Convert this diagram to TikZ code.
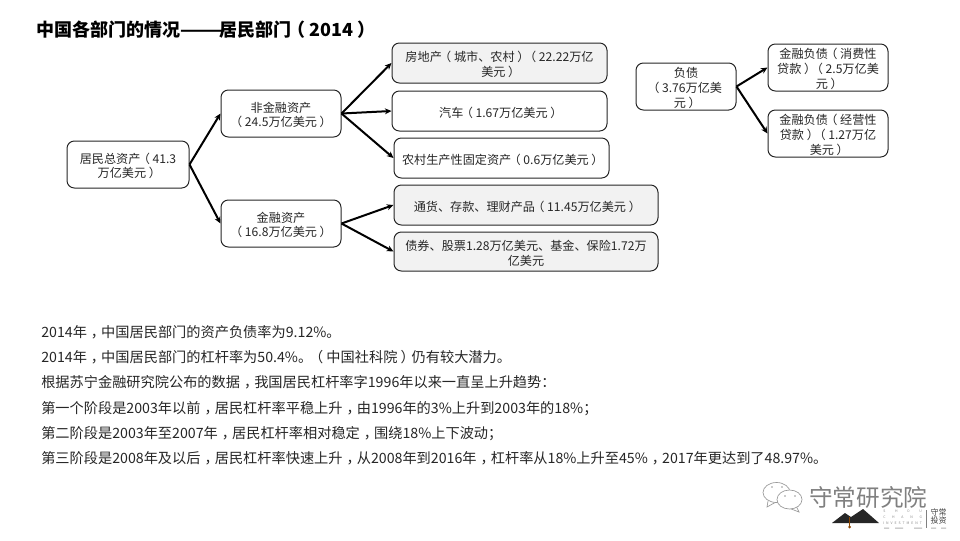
\documentclass[tikz,border=0pt]{standalone}
\usetikzlibrary{arrows.meta}
\usepackage{fontspec}
\setmainfont{Noto Sans CJK SC}
\newcommand{\lp}{\kern-.22em（\kern.22em}
\newcommand{\rp}{\kern.22em）\kern-.22em}
\newcommand{\cm}{\kern.28em，\kern-.28em}
\begin{document}
\begin{tikzpicture}[x=0.75pt,y=-0.75pt,
 box/.style={draw=black!85,line width=0.75pt,rounded corners=5.5pt,fill=white,inner sep=0pt},
 gbox/.style={box,fill=black!5},
 boxtext/.style={align=center,inner sep=0pt,font=\fontsize{9.1pt}{11pt}\selectfont,text=black!85},
 arr/.style={draw=black,line width=1.5pt,-{Stealth[length=5pt,width=4.5pt]}},
 body/.style={anchor=west,inner sep=0pt,font=\fontsize{10.65pt}{12pt}\selectfont,text=black!85},
 ttl/.style={anchor=west,inner sep=0pt,font=\fontsize{13.5pt}{16pt}\selectfont\bfseries,text=black},
 tiny/.style={anchor=west,inner sep=0pt,font=\fontsize{2.6pt}{3pt}\selectfont,text=black!45}]
\useasboundingbox (0,0) rectangle (960,540);
\fill[white] (0,0) rectangle (960,540);
\node[ttl] (title) at (36,30) {中国各部门的情况———\kern-.33em 居民部门\lp 2014\rp};
\newcommand{\bx}[7]{\node[#1,minimum width=#4*0.75pt-#3*0.75pt,minimum height=#6*0.75pt-#5*0.75pt] (#2) at ({(#3+#4)/2},{(#5+#6)/2}) {};
  \node[boxtext] (#2t) at ({(#3+#4)/2},{(#5+#6)/2+1.5}) {#7};}
\bx{box}{a}{67}{189}{141}{188}{居民总资产\lp 41.3\\万亿美元\rp}
\bx{box}{b}{221}{341}{90}{137}{非金融资产\\\lp 24.5万亿美元\rp}
\bx{box}{c}{221}{341}{200}{247}{金融资产\\\lp 16.8万亿美元\rp}
\bx{gbox}{d}{392}{607}{43}{83}{房地产\lp 城市、农村\rp\lp 22.22万亿\\美元\rp}
\bx{box}{e}{392}{607}{91}{131}{汽车\lp 1.67万亿美元\rp}
\bx{box}{f}{394}{609}{138}{178}{农村生产性固定资产\lp 0.6万亿美元\rp}
\bx{gbox}{g}{394}{658}{185}{225}{通货、存款、理财产品\lp 11.45万亿美元\rp}
\bx{gbox}{h}{394}{658}{232}{271}{债券、股票1.28万亿美元、基金、保险1.72万\\亿美元}
\bx{box}{p}{636}{736}{63}{110}{负债\\\lp 3.76万亿美\\元\rp}
\bx{box}{q}{768}{888}{44}{91}{金融负债\lp 消费性\\贷款\rp\lp 2.5万亿美\\元\rp}
\bx{box}{r}{768}{888}{110}{157}{金融负债\lp 经营性\\贷款\rp\lp 1.27万亿\\美元\rp}
\foreach \s/\t in {a/b,a/c,b/d,b/e,b/f,c/g,c/h,p/q,p/r}
  \draw[arr] (\s.east) -- (\t.west);
\node[body] (l1) at (41,332.5) {2014年\cm 中国居民部门的资产负债率为9.12\%。};
\node[body] (l2) at (41,357.5) {2014年\cm 中国居民部门的杠杆率为50.4\%。\lp 中国社科院\rp 仍有较大潜力。};
\node[body] (l3) at (41,382.5) {根据苏宁金融研究院公布的数据\cm 我国居民杠杆率字1996年以来一直呈上升趋势：};
\node[body] (l4) at (41,408.5) {第一个阶段是2003年以前\cm 居民杠杆率平稳上升\cm 由1996年的3\%上升到2003年的18\%；};
\node[body] (l5) at (41,433.5) {第二阶段是2003年至2007年\cm 居民杠杆率相对稳定\cm 围绕18\%上下波动；};
\node[body] (l6) at (41,458.5) {第三阶段是2008年及以后\cm 居民杠杆率快速上升\cm 从2008年到2016年\cm 杠杆率从18\%上升至45\%\cm 2017年更达到了48.97\%。};
% watermark
\begin{scope}[draw=black!40,line width=0.5pt,fill=white]
\filldraw (768,501) -- (767,507) -- (776,502);
\filldraw (776.5,492.5) ellipse (13.5 and 10);
\filldraw (796,506) -- (799,512) -- (790,508.5);
\filldraw (789.5,499.5) ellipse (12.5 and 9.5);
\fill[black!40] (772,487) circle (0.8) (782,487) circle (0.8) (785,496) circle (0.8) (795,496) circle (0.8);
\end{scope}
\node[anchor=west,inner sep=0pt,font=\fontsize{17.7pt}{20pt}\selectfont,text=black!50] (wm) at (809,497) {守常研究院};
\fill[black!85] (832,523) -- (845,513) -- (851,517) -- (863,509) -- (879,523) -- cycle;
\draw[black!45!orange,line width=0.3pt] (849.5,517) -- (849.5,526);
\fill[black!45!orange] (849.5,527) circle (1.5);
\node[tiny] (s1) at (883,511) {\makebox[29pt][s]{S\hfill H\hfill O\hfill U}};
\node[tiny] (s2) at (883,517) {\makebox[29pt][s]{C\hfill H\hfill A\hfill N\hfill G}};
\node[tiny] (s3) at (883,523) {\makebox[29pt][s]{I\hfill N\hfill V\hfill E\hfill S\hfill T\hfill M\hfill E\hfill N\hfill T}};
\fill[black!30] (884,527.5) rectangle +(5,1) (895,527.5) rectangle +(8,1) (914,527.5) rectangle +(8,1);
\draw[black!50,line width=0.3pt] (926,510) -- (926,528);
\node[inner sep=0pt,font=\fontsize{6pt}{6.5pt}\selectfont,text=black!75,align=center] (tz) at (938.5,516.5) {守常\\投资};
\fill[black!30] (931,527.5) rectangle +(5,1) (941,527.5) rectangle +(5,1);
\end{tikzpicture}
\end{document}
